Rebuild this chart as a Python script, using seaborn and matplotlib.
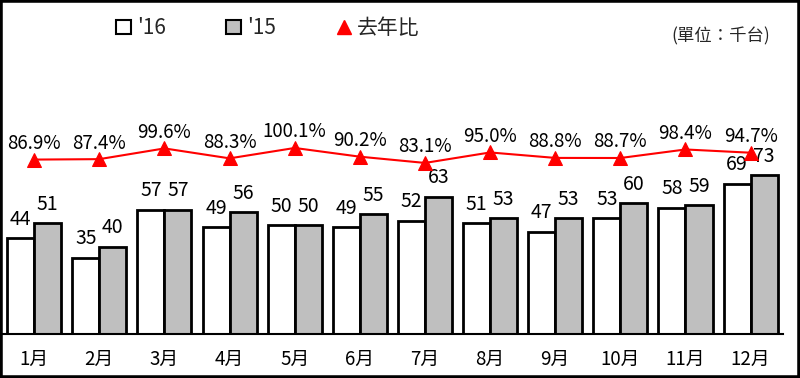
import matplotlib
matplotlib.use("Agg")
import matplotlib.pyplot as plt
import matplotlib.patches as mpatches
from matplotlib.lines import Line2D
import pandas as pd
import seaborn as sb

sb.set_style("white")
plt.rcParams["font.family"] = ["Noto Sans CJK TC", "DejaVu Sans"]

# data
months = ["1月", "2月", "3月", "4月", "5月", "6月", "7月", "8月", "9月", "10月", "11月", "12月"]
y16 = [44, 35, 57, 49, 50, 49, 52, 51, 47, 53, 58, 69]
y15 = [51, 40, 57, 56, 50, 55, 63, 53, 53, 60, 59, 73]
ratio = [86.9, 87.4, 99.6, 88.3, 100.1, 90.2, 83.1, 95.0, 88.8, 88.7, 98.4, 94.7]

df = pd.DataFrame({
    "month": months * 2,
    "value": y16 + y15,
    "year": ["'16"] * 12 + ["'15"] * 12,
})

fig = plt.figure(figsize=(8, 3.78), dpi=100)
ax = fig.add_axes([0.002, 0.1164, 0.977, 0.7778])

sb.barplot(data=df, x="month", y="value", hue="year", order=months,
           hue_order=["'16", "'15"], palette={"'16": "white", "'15": "#bfbfbf"},
           edgecolor="black", linewidth=2, width=0.83, gap=0, ax=ax, legend=False)

ax.set_ylim(0, 134.9)
ax.set_xlim(-0.5, 11.5)
ax.set_xlabel("")
ax.set_ylabel("")
ax.set_yticks([])
for s in ["top", "left", "right"]:
    ax.spines[s].set_visible(False)
ax.spines["bottom"].set_color("black")
ax.spines["bottom"].set_linewidth(1.5)
ax.tick_params(axis="x", which="major", length=0, pad=11, labelsize=13.5, colors="black")
ax.set_xticks([i + 0.5 for i in range(11)], minor=True)
ax.tick_params(axis="x", which="minor", direction="in", length=4, width=1, color="black")

for cont in ax.containers:
    ax.bar_label(cont, fmt="%d", padding=6, fontsize=14, color="black")

# ratio line on a twin axis
ax2 = ax.twinx()
sb.lineplot(x=list(range(12)), y=ratio, color="red", marker="^", markersize=10,
            markeredgecolor="red", linewidth=1.5, ax=ax2)
ax2.set_ylim(-111.3, 222.8)
ax2.set_yticks([])
ax2.set_xlim(-0.5, 11.5)
for s in ax2.spines.values():
    s.set_visible(False)
for i, r in enumerate(ratio):
    ax2.annotate(f"{r:.1f}%", (i, r), xytext=(0, 4), textcoords="offset points",
                 ha="center", va="bottom", fontsize=13.5, color="black")

# legend
handles = [
    mpatches.Patch(facecolor="white", edgecolor="black", linewidth=1.5, label="'16"),
    mpatches.Patch(facecolor="#bfbfbf", edgecolor="black", linewidth=1.5, label="'15"),
    Line2D([], [], color="red", marker="^", linestyle="none", markersize=10, label="去年比"),
]
fig.legend(handles=handles, loc="center", bbox_to_anchor=(0.335, 0.925), ncol=3,
           frameon=False, fontsize=15, handlelength=0.7, handleheight=0.7,
           handletextpad=0.3, columnspacing=2.9)

fig.text(0.963, 0.905, "(單位：千台)", ha="right", va="center", fontsize=12.5)

# outer frame
fig.patches.append(mpatches.Rectangle((0, 0), 1, 1, transform=fig.transFigure,
                                      fill=False, edgecolor="black", linewidth=4))

fig.savefig("out.png", dpi=100)
